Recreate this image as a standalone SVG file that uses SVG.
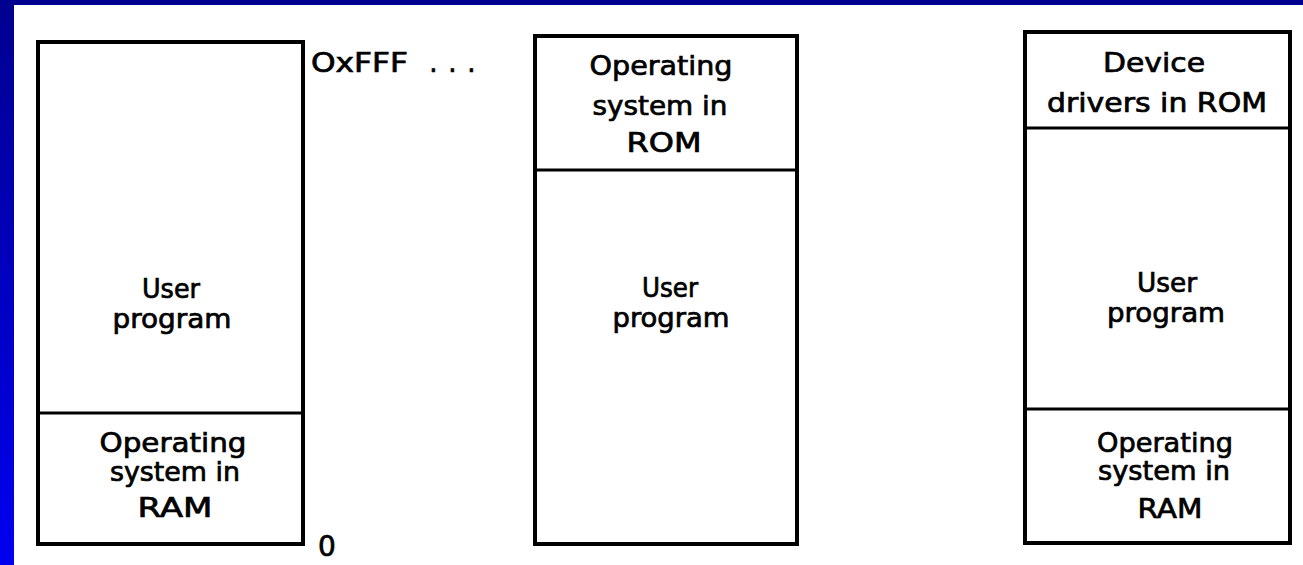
<svg xmlns="http://www.w3.org/2000/svg" width="1303" height="565" viewBox="0 0 1303 565">
<style>
.box{fill:none;stroke:#000;stroke-width:4}
.div{stroke:#000;stroke-width:3}
.t{font-family:"DejaVu Sans",Verdana,sans-serif;font-size:26px;fill:#000;stroke:#000;stroke-width:0.7;text-anchor:middle}
.l{font-family:"DejaVu Sans",Verdana,sans-serif;font-size:26px;fill:#000;stroke:#000;stroke-width:0.7}
</style>
<defs>
<linearGradient id="side" x1="0" y1="0" x2="0" y2="1">
<stop offset="0" stop-color="#000090"/>
<stop offset="1" stop-color="#0000f0"/>
</linearGradient>
</defs>
<rect x="0" y="0" width="1303" height="565" fill="#fff"/>
<rect x="0" y="0" width="1303" height="5" fill="#000090"/>
<rect x="0" y="0" width="14" height="565" fill="url(#side)"/>

<g id="mem1">
<rect class="box" x="38" y="42" width="265" height="502"/>
<line class="div" x1="38" y1="413" x2="303" y2="413"/>
<text class="t" x="171" y="298" textLength="58" lengthAdjust="spacingAndGlyphs">User</text>
<text class="t" x="172" y="328" textLength="119" lengthAdjust="spacingAndGlyphs">program</text>
<text class="t" x="173" y="452" textLength="147" lengthAdjust="spacingAndGlyphs">Operating</text>
<text class="t" x="175" y="481" textLength="130" lengthAdjust="spacingAndGlyphs">system in</text>
<text class="t" x="175" y="517" textLength="75" lengthAdjust="spacingAndGlyphs">RAM</text>
</g>

<g id="labels">
<text class="l" x="311" y="72"><tspan textLength="97" lengthAdjust="spacingAndGlyphs">OxFFF</tspan><tspan x="421"> .</tspan><tspan x="440"> .</tspan><tspan x="459"> .</tspan></text>
<text class="l" x="318" y="556" style="font-size:28px">0</text>
</g>

<g id="mem2">
<rect class="box" x="535" y="36" width="262" height="508"/>
<line class="div" x1="535" y1="170" x2="797" y2="170"/>
<text class="t" x="661" y="75" textLength="143" lengthAdjust="spacingAndGlyphs">Operating</text>
<text class="t" x="660" y="115" textLength="135" lengthAdjust="spacingAndGlyphs">system in</text>
<text class="t" x="664" y="152" textLength="75" lengthAdjust="spacingAndGlyphs">ROM</text>
<text class="t" x="670" y="297" textLength="56" lengthAdjust="spacingAndGlyphs">User</text>
<text class="t" x="671" y="327" textLength="117" lengthAdjust="spacingAndGlyphs">program</text>
</g>

<g id="mem3">
<rect class="box" x="1025" y="32" width="265" height="511"/>
<line class="div" x1="1025" y1="128" x2="1290" y2="128"/>
<line class="div" x1="1025" y1="409" x2="1290" y2="409"/>
<text class="t" x="1154" y="72" textLength="102" lengthAdjust="spacingAndGlyphs">Device</text>
<text class="t" x="1157" y="112" textLength="220" lengthAdjust="spacingAndGlyphs">drivers in ROM</text>
<text class="t" x="1167" y="292" textLength="60" lengthAdjust="spacingAndGlyphs">User</text>
<text class="t" x="1166" y="322" textLength="118" lengthAdjust="spacingAndGlyphs">program</text>
<text class="t" x="1165" y="452" textLength="136" lengthAdjust="spacingAndGlyphs">Operating</text>
<text class="t" x="1164" y="480" textLength="132" lengthAdjust="spacingAndGlyphs">system in</text>
<text class="t" x="1170" y="518" textLength="65" lengthAdjust="spacingAndGlyphs">RAM</text>
</g>
<g id="connectors"></g>
</svg>
